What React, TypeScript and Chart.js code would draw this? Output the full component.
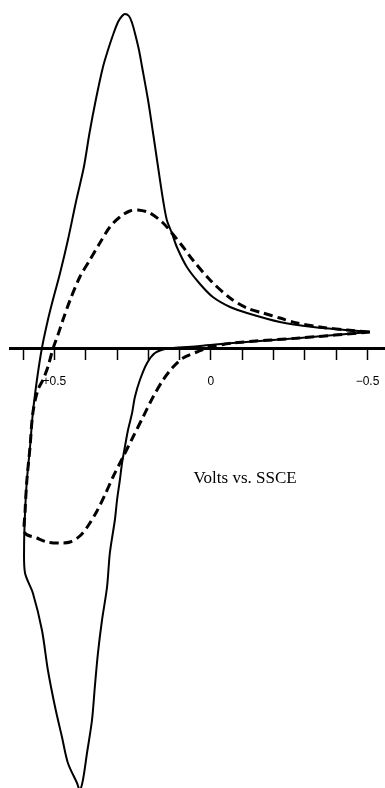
import React, { useEffect, useRef } from 'react';
import { Chart, registerables } from 'chart.js';

Chart.register(...registerables);

// Potential (V vs SSCE) and current (arbitrary units) for the solid voltammogram
const solidVolts = [
  -0.508, -0.284, -0.07, 0.035, 0.121, 0.147, 0.179, 0.204, 0.227, 0.243,
  0.252, 0.265, 0.275, 0.284, 0.291, 0.3, 0.307, 0.323, 0.332, 0.348,
  0.361, 0.371, 0.38, 0.396, 0.409, 0.419, 0.428, 0.457, 0.476, 0.498,
  0.521, 0.54, 0.569, 0.594, 0.597, 0.594, 0.588, 0.578, 0.569, 0.556,
  0.54, 0.521, 0.505, 0.482, 0.457, 0.43, 0.406, 0.388, 0.368, 0.345,
  0.329, 0.313, 0.297, 0.284, 0.275, 0.262, 0.252, 0.243, 0.23, 0.22,
  0.201, 0.185, 0.169, 0.153, 0.141, 0.125, 0.109, 0.077, 0.035, -0.006,
  -0.061, -0.115, -0.22, -0.326, -0.435, -0.508,
];
const solidCurrent = [
  1.6, 1.0, 0.5, 0.2, 0.0, -0.1, -0.5, -1.5, -3.2, -4.9,
  -6.5, -8.2, -9.9, -11.5, -13.2, -15.2, -17.2, -20.5, -23.9, -27.2,
  -30.5, -33.9, -37.2, -40.5, -43.2, -44.2, -43.5, -41.5, -38.9, -35.9,
  -32.2, -28.2, -24.5, -22.5, -19.9, -16.5, -13.2, -9.9, -6.5, -3.2,
  0.0, 2.8, 4.8, 7.5, 10.8, 14.8, 18.1, 21.5, 24.8, 28.1,
  29.8, 31.3, 32.6, 33.2, 33.4, 33.2, 32.5, 31.5, 29.8, 28.1,
  24.8, 21.5, 18.1, 14.8, 12.8, 11.5, 10.1, 8.1, 6.4, 5.1,
  4.1, 3.5, 2.6, 2.1, 1.8, 1.6,
];

// Dashed voltammogram
const dashedVolts = [
  -0.508, -0.284, -0.07, 0.013, 0.045, 0.089, 0.121, 0.153, 0.185, 0.217,
  0.249, 0.281, 0.313, 0.339, 0.364, 0.393, 0.419, 0.45, 0.482, 0.524,
  0.556, 0.594, 0.594, 0.588, 0.578, 0.569, 0.553, 0.537, 0.521, 0.505,
  0.489, 0.473, 0.45, 0.419, 0.387, 0.355, 0.323, 0.291, 0.259, 0.233,
  0.195, 0.153, 0.125, 0.089, 0.058, 0.003, -0.061, -0.115, -0.166, -0.22,
  -0.275, -0.348, -0.435, -0.508,
];
const dashedCurrent = [
  1.6, 1.0, 0.5, 0.0, -0.4, -1.0, -1.9, -3.2, -4.9, -6.9,
  -8.9, -10.9, -12.9, -14.7, -16.3, -17.8, -18.8, -19.4, -19.5, -19.4,
  -19.0, -18.5, -16.5, -13.2, -9.9, -6.5, -4.2, -3.2, -1.9, -0.1,
  1.3, 2.8, 4.8, 7.1, 8.8, 10.5, 12.1, 13.1, 13.7, 13.8,
  13.5, 12.5, 11.5, 10.1, 8.8, 6.8, 5.0, 4.0, 3.5, 3.0,
  2.5, 2.1, 1.8, 1.6,
];

const labeledTicks = [0.5, 0, -0.5];
const labeledTickText = ['+0.5', '0', '\u22120.5'];
const axisTitle = 'Volts vs. SSCE';
const axisTitleVolts = -0.109;
const axisTitleCurrent = -13.1;

const xMin = -0.556;
const xMax = 0.642;
const yMin = -44;
const yMax = 34.8;

export default function App() {
  const ref = useRef<HTMLCanvasElement>(null);

  useEffect(() => {
    if (!ref.current) return;
    const toPoints = (xs: number[], ys: number[]) => xs.map((x, i) => ({ x, y: ys[i] }));

    const titlePlugin = {
      id: 'axisTitleText',
      afterDatasetsDraw(chart: any) {
        const { ctx, scales } = chart;
        ctx.save();
        ctx.fillStyle = '#000';
        ctx.font = '17px "Liberation Serif", "Times New Roman", serif';
        ctx.textAlign = 'center';
        ctx.textBaseline = 'middle';
        ctx.fillText(
          axisTitle,
          scales.x.getPixelForValue(axisTitleVolts),
          scales.y.getPixelForValue(axisTitleCurrent)
        );
        ctx.restore();
      },
    };

    const chart = new Chart(ref.current, {
      type: 'scatter',
      data: {
        datasets: [
          {
            data: toPoints(solidVolts, solidCurrent),
            showLine: true,
            borderColor: '#000',
            borderWidth: 2,
            pointRadius: 0,
            tension: 0.3,
            fill: false,
          },
          {
            data: toPoints(dashedVolts, dashedCurrent),
            showLine: true,
            borderColor: '#000',
            borderWidth: 3,
            borderDash: [9, 5],
            pointRadius: 0,
            tension: 0.3,
            fill: false,
          },
        ],
      },
      options: {
        responsive: false,
        animation: false,
        layout: { padding: { left: 10, right: 0, top: 0, bottom: 0 } },
        plugins: {
          legend: { display: false },
          tooltip: { enabled: false },
        },
        scales: {
          x: {
            type: 'linear',
            position: { y: 0 } as any,
            reverse: true,
            min: xMin,
            max: xMax,
            afterFit: (s: any) => {
              s.paddingLeft = 0;
              s.paddingRight = 0;
            },
            border: { display: true, width: 3, color: '#000' },
            grid: {
              drawOnChartArea: false,
              drawTicks: true,
              tickLength: 10,
              tickWidth: 1.5,
              tickColor: '#000',
            },
            ticks: {
              stepSize: 0.1,
              includeBounds: false,
              autoSkip: false,
              maxRotation: 0,
              padding: 16,
              color: '#000',
              font: { family: '"Liberation Sans", Arial, sans-serif', size: 12 },
              callback: (v: any) => {
                const k = labeledTicks.findIndex((t) => Math.abs(t - Number(v)) < 1e-6);
                return k >= 0 ? labeledTickText[k] : '';
              },
            },
          },
          y: {
            type: 'linear',
            display: false,
            min: yMin,
            max: yMax,
          },
        },
      } as any,
      plugins: [titlePlugin],
    });

    return () => chart.destroy();
  }, []);

  return (
    <div style={{ position: 'fixed', left: 0, top: 0, width: 385, height: 788, background: '#fff' }}>
      <canvas ref={ref} width={385} height={788} style={{ display: 'block' }} />
    </div>
  );
}
